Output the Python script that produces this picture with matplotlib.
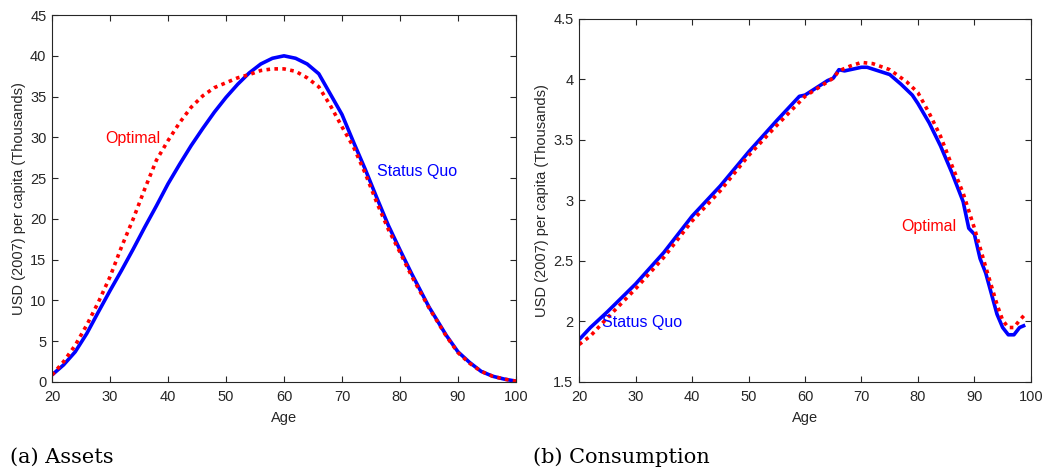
import matplotlib
matplotlib.use("Agg")
from matplotlib import pyplot as plt
from matplotlib.ticker import FuncFormatter

# assets panel (thousands of USD)
asset_age = [20, 22, 24, 26, 28, 30, 32, 34, 36, 38, 40, 42, 44, 46, 48, 50, 52, 54, 56, 58, 60, 62,
             64, 66, 68, 70, 72, 74, 76, 78, 80, 82, 85, 88, 90, 92, 94, 96, 98, 100]
asset_status_quo = [0.86, 2.1, 3.7, 5.95, 8.6, 11.2, 13.7, 16.3, 19.0, 21.6, 24.3, 26.7, 29.0, 31.1,
                    33.1, 34.9, 36.5, 37.9, 39.0, 39.7, 40.0, 39.7, 39.0, 37.8, 35.3, 32.8, 29.4,
                    26.1, 22.6, 19.2, 16.2, 13.3, 9.2, 5.7, 3.7, 2.4, 1.3, 0.7, 0.35, 0.1]

asset_opt_age = [20, 22, 24, 26, 28, 30, 32, 34, 36, 38, 40, 42, 44, 46, 48, 50, 52, 54, 56, 58, 60,
                 62, 64, 66, 68, 70, 72, 74, 76, 78, 80, 82, 85, 88, 90, 92, 94, 96, 98, 100]
asset_optimal = [0.86, 2.5, 4.5, 7.0, 9.8, 12.9, 16.6, 20.0, 23.7, 27.2, 29.6, 31.8, 33.7, 35.1, 36.1,
                 36.7, 37.3, 37.7, 38.2, 38.4, 38.4, 38.1, 37.3, 36.2, 33.9, 31.3, 28.8, 25.6, 22.0,
                 18.7, 15.9, 13.0, 9.1, 5.6, 3.6, 2.3, 1.3, 0.7, 0.35, 0.1]

# consumption panel (thousands of USD)
cons_age = [20, 22, 25, 30, 35, 40, 45, 50, 55, 59, 60, 62, 64, 65, 66, 67, 68, 70, 71, 73, 75, 77,
            79, 80, 82, 84, 86, 88, 89, 90, 91, 92, 93, 94, 95, 96, 97, 98, 99]
cons_status_quo = [1.85, 1.95, 2.08, 2.31, 2.57, 2.87, 3.12, 3.40, 3.66, 3.86, 3.87, 3.93, 3.99, 4.01,
                   4.08, 4.07, 4.08, 4.10, 4.10, 4.07, 4.04, 3.96, 3.87, 3.80, 3.64, 3.45, 3.23, 2.99,
                   2.77, 2.72, 2.52, 2.40, 2.23, 2.06, 1.95, 1.89, 1.89, 1.95, 1.97]

cons_opt_age = [20, 22, 25, 30, 35, 40, 45, 50, 55, 60, 62, 65, 66, 68, 70, 72, 75, 78, 80, 82, 84,
                86, 88, 90, 92, 94, 95, 96, 97, 98, 99]
cons_optimal = [1.81, 1.88, 2.03, 2.27, 2.53, 2.83, 3.08, 3.37, 3.62, 3.86, 3.92, 4.01, 4.07, 4.11,
                4.14, 4.13, 4.08, 3.98, 3.89, 3.72, 3.53, 3.29, 3.06, 2.77, 2.45, 2.14, 2.01, 1.95,
                1.95, 2.01, 2.06]

y_label = "USD (2007) per capita (Thousands)"
text_color = "#262626"

plt.rcParams["font.family"] = ["Liberation Sans", "DejaVu Sans"]

fig = plt.figure(figsize=(10.53, 4.71), dpi=100)
ax1 = fig.add_axes([0.0494, 0.189, 0.4406, 0.779])
ax2 = fig.add_axes([0.550, 0.189, 0.429, 0.771])


def style_axes(ax):
    ax.tick_params(direction="in", top=True, right=True, length=4, width=0.8,
                   labelsize=10.5, colors=text_color)
    ax.tick_params(axis="x", pad=6)
    ax.tick_params(axis="y", pad=4)
    for s in ax.spines.values():
        s.set_color(text_color)
        s.set_linewidth(0.8)
    ax.yaxis.set_major_formatter(FuncFormatter(lambda v, p: "%g" % v))
    ax.set_xlabel("Age", fontsize=10.5, color=text_color, labelpad=5)
    ax.set_ylabel(y_label, fontsize=10.5, color=text_color, labelpad=3)


# assets
ax1.plot(asset_age, asset_status_quo, color="#0000ff", linewidth=2.6, solid_capstyle="butt")
ax1.plot(asset_opt_age, asset_optimal, color="#ff0000", linewidth=2.6, linestyle=(0, (1, 1.2)))
ax1.set_xlim(20, 100)
ax1.set_ylim(0, 45)
ax1.set_xticks(range(20, 101, 10))
ax1.set_yticks(range(0, 46, 5))
ax1.text(29.1, 29.9, "Optimal", color="#ff0000", fontsize=11.5, va="center", ha="left")
ax1.text(76.1, 25.8, "Status Quo", color="#0000ff", fontsize=11.5, va="center", ha="left")
style_axes(ax1)

# consumption
ax2.plot(cons_age, cons_status_quo, color="#0000ff", linewidth=2.6, solid_capstyle="butt")
ax2.plot(cons_opt_age, cons_optimal, color="#ff0000", linewidth=2.6, linestyle=(0, (1, 1.2)))
ax2.set_xlim(20, 100)
ax2.set_ylim(1.5, 4.5)
ax2.set_xticks(range(20, 101, 10))
ax2.set_yticks([1.5, 2, 2.5, 3, 3.5, 4, 4.5])
ax2.text(24.0, 1.99, "Status Quo", color="#0000ff", fontsize=11.5, va="center", ha="left")
ax2.text(77.0, 2.785, "Optimal", color="#ff0000", fontsize=11.5, va="center", ha="left")
style_axes(ax2)

# sub-captions
fig.text(0.0095, 0.03, "(a) Assets", fontsize=15, family=["DejaVu Serif"],
         ha="left", va="center")
fig.text(0.506, 0.03, "(b) Consumption", fontsize=15, family=["DejaVu Serif"],
         ha="left", va="center")

fig.savefig("out.png", dpi=100)
